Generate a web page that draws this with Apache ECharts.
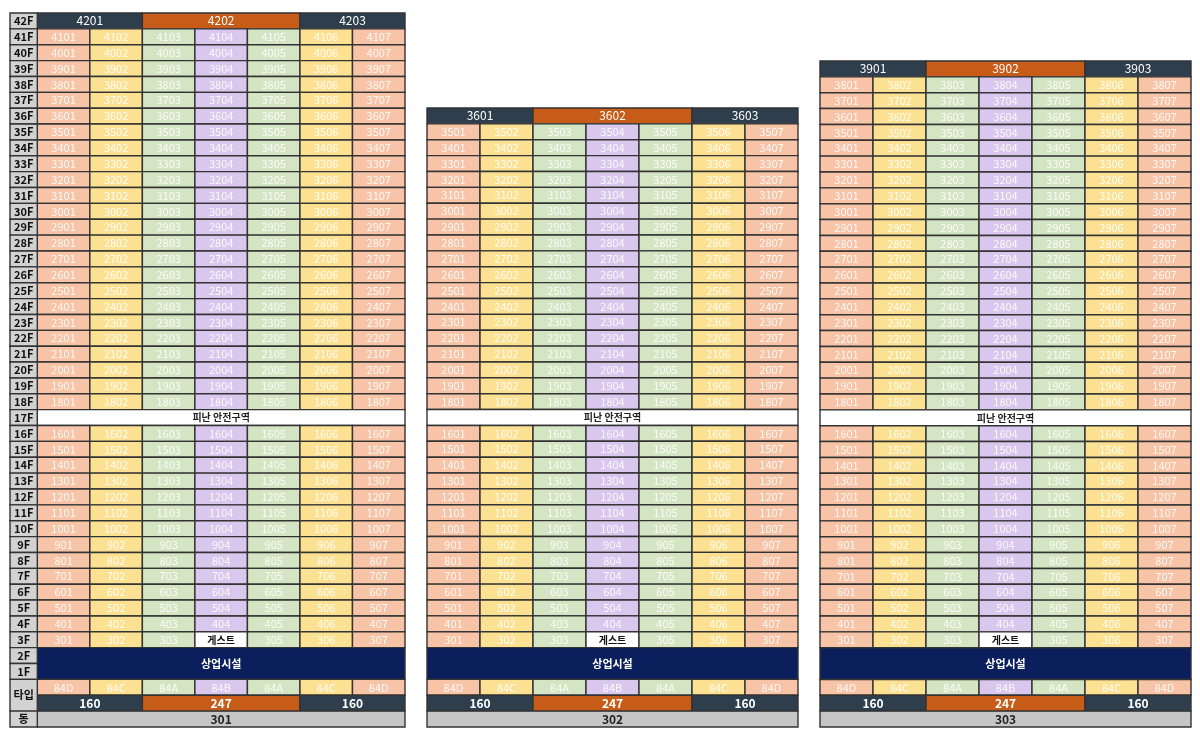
<!DOCTYPE html>
<html>
<head>
<meta charset="utf-8">
<script src="https://cdn.jsdelivr.net/npm/echarts@6/dist/echarts.min.js"></script>
<style>
  html, body { margin: 0; padding: 0; background: #fff; }
  #chart { width: 1200px; height: 738px; }
</style>
</head>
<body>
<div id="chart"></div>
<script>
// 동 별 데이터
const buildings = ['301', '302', '303'];
const headerUnits = [
  ['4201', '4202', '4203'],
  ['3601', '3602', '3603'],
  ['3901', '3902', '3903']
];
const floors301 = [41, 40, 39, 38, 37, 36, 35, 34, 33, 32, 31, 30, 29, 28, 27, 26, 25, 24, 23, 22, 21, 20, 19, 18, 17, 16, 15, 14, 13, 12, 11, 10, 9, 8, 7, 6, 5, 4, 3];
const floors302 = [35, 34, 33, 32, 31, 30, 29, 28, 27, 26, 25, 24, 23, 22, 21, 20, 19, 18, 17, 16, 15, 14, 13, 12, 11, 10, 9, 8, 7, 6, 5, 4, 3];
const floors303 = [38, 37, 36, 35, 34, 33, 32, 31, 30, 29, 28, 27, 26, 25, 24, 23, 22, 21, 20, 19, 18, 17, 16, 15, 14, 13, 12, 11, 10, 9, 8, 7, 6, 5, 4, 3];
const floorLists = [floors301, floors302, floors303];
const topFloorLabel = '42F';
const lowerFloorLabels = ['2F', '1F'];
const unitTypes = ['84D', '84C', '84A', '84B', '84A', '84C', '84D'];
const areaLabels = ['160', '247', '160'];
const refugeFloor = 17;
const refugeText = '피난 안전구역';
const guestFloor = 3;
const guestLine = 4;
const guestText = '게스트';
const commercialText = '상업시설';
const typeRowLabel = '타입';
const dongRowLabel = '동';

const typeColor = { '84D': '#f7c4a8', '84C': '#fde193', '84A': '#d3e5c3', '84B': '#d9c7ee' };
const slate = '#2f3e4d';
const orange = '#c75b18';
const navy = '#0b1f5c';
const lineColor = '#333';
const font = '"Noto Sans CJK KR", "Noto Sans", sans-serif';

function cell(x0, x1, y0, y1, fill, text, color, weight, size) {
  return { x0, x1, y0, y1, fill, text, color: color || '#fff', weight: weight || 'normal', size: size || 11 };
}

function buildCells(b) {
  const cells = [];
  const h = headerUnits[b];
  cells.push(cell(0, 2, 0, 1, slate, h[0], '#fff', 'normal', 12));
  cells.push(cell(2, 5, 0, 1, orange, h[1], '#fff', 'normal', 12));
  cells.push(cell(5, 7, 0, 1, slate, h[2], '#fff', 'normal', 12));
  let row = 1;
  floorLists[b].forEach(f => {
    if (f === refugeFloor) {
      cells.push(cell(0, 7, row, row + 1, '#fff', refugeText, '#222', 'bold', 10));
    } else {
      unitTypes.forEach((t, c) => {
        if (f === guestFloor && c + 1 === guestLine) {
          cells.push(cell(c, c + 1, row, row + 1, '#fff', guestText, '#111', 'bold', 10));
        } else {
          cells.push(cell(c, c + 1, row, row + 1, typeColor[t], f + '0' + (c + 1), 'rgba(255,255,255,0.88)'));
        }
      });
    }
    row++;
  });
  cells.push(cell(0, 7, row, row + 2, navy, commercialText, '#fff', 'bold', 11));
  row += 2;
  unitTypes.forEach((t, c) => {
    cells.push(cell(c, c + 1, row, row + 1, typeColor[t], t, 'rgba(255,255,255,0.88)'));
  });
  row++;
  cells.push(cell(0, 2, row, row + 1, slate, areaLabels[0], '#fff', 'bold', 12));
  cells.push(cell(2, 5, row, row + 1, orange, areaLabels[1], '#fff', 'bold', 12));
  cells.push(cell(5, 7, row, row + 1, slate, areaLabels[2], '#fff', 'bold', 12));
  row++;
  cells.push(cell(0, 7, row, row + 1, '#c6c6c6', buildings[b], '#222', 'bold', 12));
  row++;

  // 층 라벨 (301동만)
  if (b === 0) {
    const lx = -0.52;
    const labels = [topFloorLabel].concat(floors301.map(f => f + 'F'), lowerFloorLabels);
    labels.forEach((l, i) => {
      cells.push(cell(lx, 0, i, i + 1, '#d2d2d2', l, '#111', 'bold', 11));
    });
    cells.push(cell(lx, 0, labels.length, labels.length + 2, '#d2d2d2', typeRowLabel, '#111', 'bold', 11));
    cells.push(cell(lx, 0, labels.length + 2, labels.length + 3, '#d2d2d2', dongRowLabel, '#111', 'bold', 11));
  }
  return { cells, rows: row };
}

const layouts = [
  { left: 10, top: 13, width: 395, height: 714, xmin: -0.52 },
  { left: 427, top: 108, width: 371, height: 619, xmin: 0 },
  { left: 820, top: 61, width: 371, height: 666, xmin: 0 }
];

const grids = [], xAxes = [], yAxes = [], series = [];
buildings.forEach((name, b) => {
  const { cells, rows } = buildCells(b);
  const L = layouts[b];
  grids.push({ left: L.left, top: L.top, width: L.width, height: L.height, containLabel: false });
  xAxes.push({ type: 'value', gridIndex: b, min: L.xmin, max: 7, show: false });
  yAxes.push({ type: 'value', gridIndex: b, min: 0, max: rows, inverse: true, show: false });
  series.push({
    type: 'custom',
    xAxisIndex: b,
    yAxisIndex: b,
    silent: true,
    data: cells.map(c => [c.x0, c.x1, c.y0, c.y1]),
    renderItem: function (params, api) {
      const c = cells[params.dataIndex];
      const p0 = api.coord([api.value(0), api.value(2)]);
      const p1 = api.coord([api.value(1), api.value(3)]);
      return {
        type: 'rect',
        shape: { x: p0[0], y: p0[1], width: p1[0] - p0[0], height: p1[1] - p0[1] },
        style: { fill: c.fill, stroke: lineColor, lineWidth: 1.4 },
        textContent: {
          style: {
            text: c.text,
            fill: c.color,
            font: c.weight + ' ' + c.size + 'px ' + font
          }
        },
        textConfig: { position: 'inside' }
      };
    }
  });
});

const myChart = echarts.init(document.getElementById('chart'));
const option = {
  animation: false,
  backgroundColor: '#fff',
  grid: grids,
  xAxis: xAxes,
  yAxis: yAxes,
  series: series
};
option && myChart.setOption(option);
</script>
</body>
</html>
